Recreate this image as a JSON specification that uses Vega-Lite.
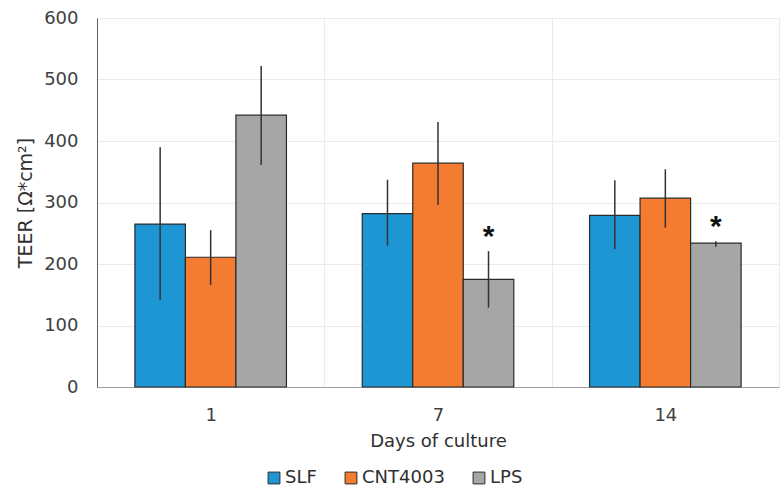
{
  "$schema": "https://vega.github.io/schema/vega-lite/v6.json",
  "width": 682,
  "height": 369,
  "autosize": "none",
  "padding": {"left": 97, "top": 18, "right": 1, "bottom": 99},
  "background": "white",
  "config": {
    "font": "DejaVu Sans",
    "view": {"stroke": null},
    "axis": {"labelFont": "DejaVu Sans", "titleFont": "DejaVu Sans", "labelColor": "#404040", "titleColor": "#303030", "labelFontSize": 18, "titleFontSize": 18, "titleFontWeight": "normal"}
  },
  "data": {
    "values": [
      {"day": "1", "group": "SLF", "mean": 265, "lo": 142, "hi": 390},
      {"day": "1", "group": "CNT4003", "mean": 211, "lo": 166, "hi": 255},
      {"day": "1", "group": "LPS", "mean": 442, "lo": 361, "hi": 522},
      {"day": "7", "group": "SLF", "mean": 282, "lo": 230, "hi": 337},
      {"day": "7", "group": "CNT4003", "mean": 364, "lo": 296, "hi": 431},
      {"day": "7", "group": "LPS", "mean": 175, "lo": 129, "hi": 221, "sig": "*"},
      {"day": "14", "group": "SLF", "mean": 279, "lo": 224, "hi": 336},
      {"day": "14", "group": "CNT4003", "mean": 307, "lo": 259, "hi": 354},
      {"day": "14", "group": "LPS", "mean": 234, "lo": 228, "hi": 237, "sig": "*"}
    ]
  },
  "encoding": {
    "x": {
      "field": "day", "type": "nominal", "sort": ["1", "7", "14"],
      "scale": {"paddingInner": 0, "paddingOuter": 0},
      "axis": {"title": "Days of culture", "labelAngle": 0, "grid": true, "tickBand": "extent", "gridColor": "#ebebeb", "domain": true, "domainColor": "#a0a0a0", "ticks": false, "labelPadding": 19, "titlePadding": 8}
    },
    "xOffset": {
      "field": "group", "type": "nominal", "sort": ["SLF", "CNT4003", "LPS"],
      "scale": {"paddingInner": 0, "paddingOuter": 0.75}
    }
  },
  "layer": [
    {
      "mark": {"type": "bar", "stroke": "#2b2b2b", "strokeWidth": 1.2},
      "encoding": {
        "y": {
          "field": "mean", "type": "quantitative",
          "scale": {"domain": [0, 600], "nice": false},
          "axis": {"title": "TEER [Ω*cm²]", "titleFontSize": 19, "values": [0, 100, 200, 300, 400, 500, 600], "grid": true, "gridColor": "#ebebeb", "ticks": false, "domainColor": "#606060", "labelPadding": 19, "titlePadding": 8}
        },
        "color": {
          "field": "group", "type": "nominal", "sort": ["SLF", "CNT4003", "LPS"],
          "scale": {"domain": ["SLF", "CNT4003", "LPS"], "range": ["#1f96d4", "#f47c30", "#a6a6a6"]},
          "legend": {
            "title": null, "orient": "none", "direction": "horizontal",
            "legendX": 168, "legendY": 451,
            "symbolType": "square", "symbolSize": 140, "symbolStrokeColor": "#2b2b2b", "symbolStrokeWidth": 1,
            "labelFontSize": 18, "labelColor": "#303030", "labelFont": "DejaVu Sans",
            "columnPadding": 25, "labelOffset": 2
          }
        }
      }
    },
    {
      "mark": {"type": "rule", "color": "#333333", "strokeWidth": 1.5},
      "encoding": {
        "y": {"field": "lo", "type": "quantitative"},
        "y2": {"field": "hi"}
      }
    },
    {
      "transform": [{"filter": "datum.sig"}],
      "mark": {"type": "text", "font": "Liberation Sans", "fontSize": 30, "fontWeight": "bold", "baseline": "middle", "dy": -14, "color": "#111111"},
      "encoding": {
        "y": {"field": "hi", "type": "quantitative"},
        "text": {"field": "sig"}
      }
    }
  ]
}
